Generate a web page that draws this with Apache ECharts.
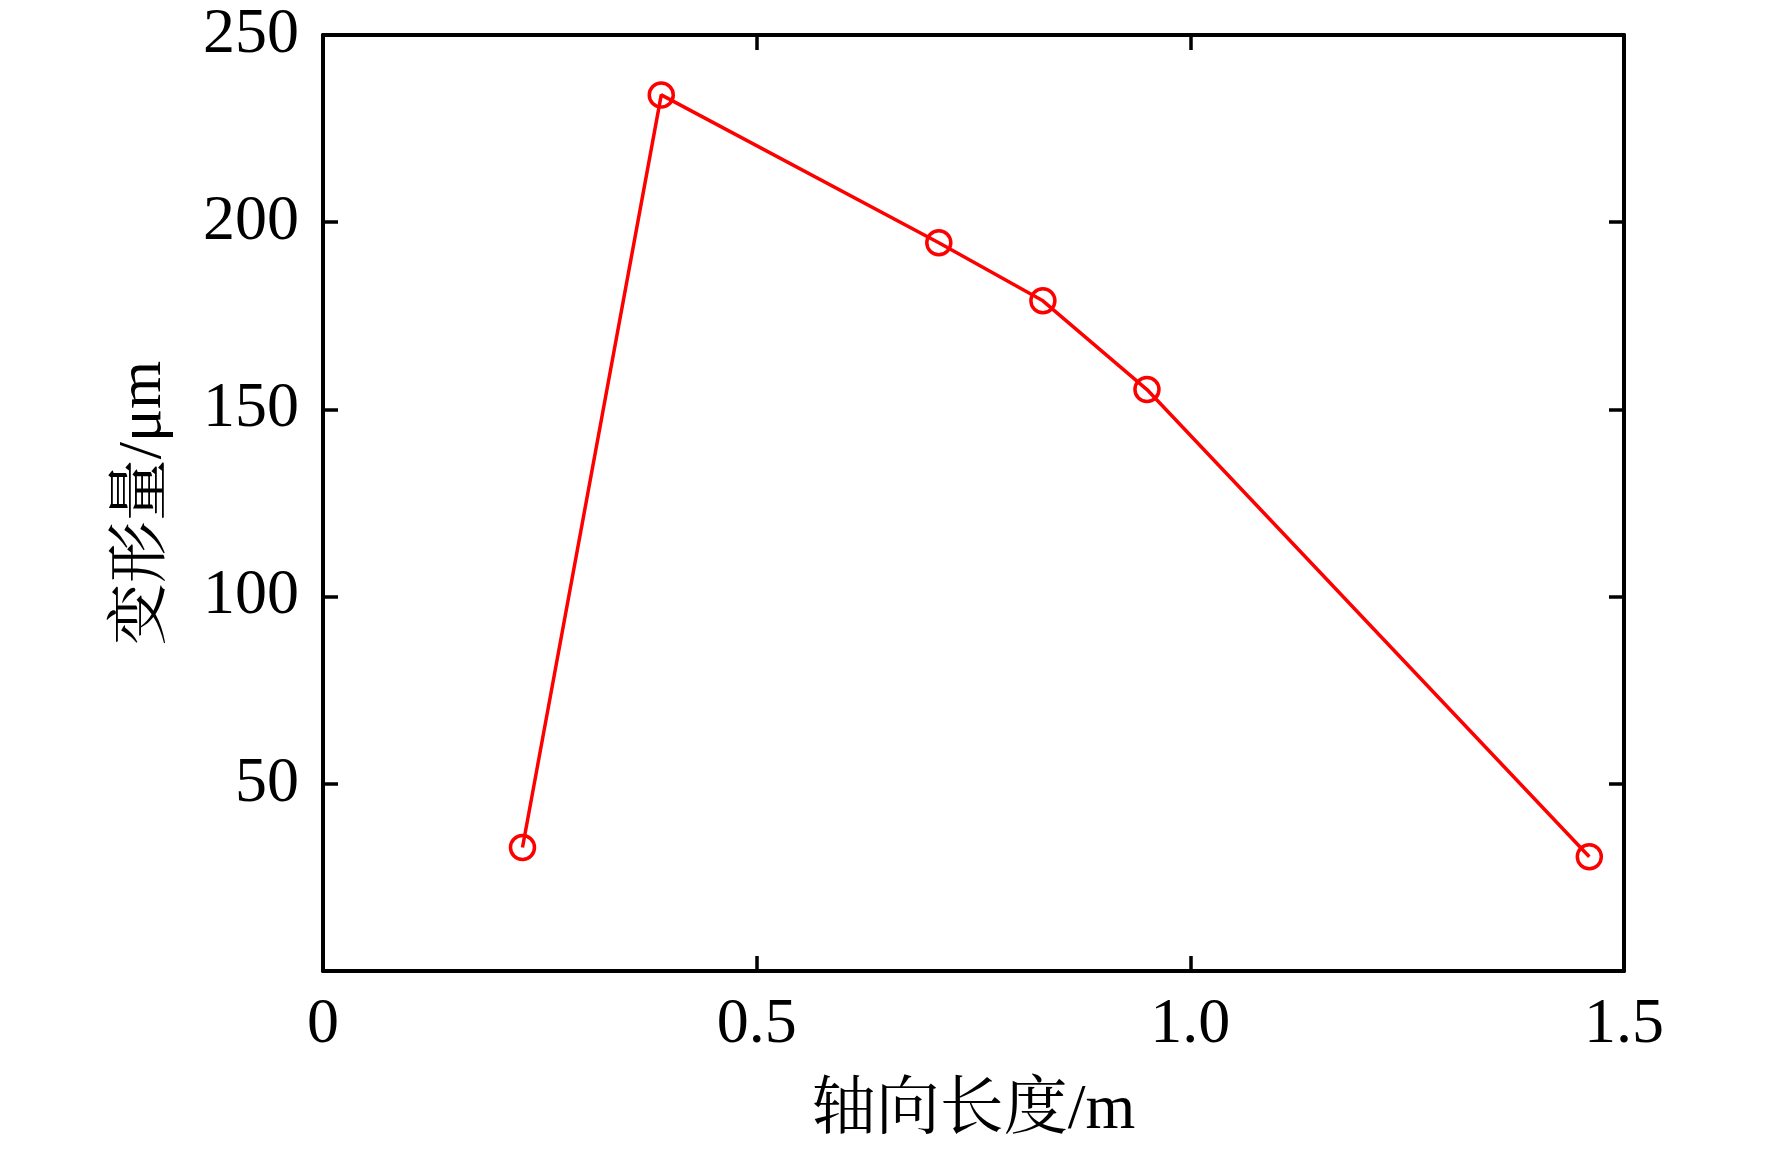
<!DOCTYPE html>
<html>
<head>
<meta charset="utf-8">
<script src="https://cdn.jsdelivr.net/npm/echarts@6/dist/echarts.min.js"></script>
<style>
html,body{margin:0;padding:0;background:#fff;}
#chart{width:1772px;height:1152px;}
</style>
</head>
<body>
<div id="chart"></div>
<script>
const xValues = [0.23, 0.39, 0.71, 0.83, 0.95, 1.46];
const yValues = [33, 234, 194.5, 179, 155.3, 30.5];
const xTicks = [0, 0.5, 1.0, 1.5];
const yTicks = [0, 50, 100, 150, 200, 250];
const xTitle = '轴向长度/m';
const yTitle = '变形量/μm';

const FONT = "'Liberation Serif', 'Times New Roman', 'Noto Serif CJK SC', 'Noto Sans CJK SC', serif";
const axisLine = {show: true, onZero: false, lineStyle: {color: '#000', width: 4}};
const axisTick = {show: true, inside: true, length: 15, lineStyle: {color: '#000', width: 3.5}};

const chart = echarts.init(document.getElementById('chart'), null, {renderer: 'canvas'});
chart.setOption({
  backgroundColor: '#fff',
  animation: false,
  grid: {left: 323, right: 148, top: 35, bottom: 181, containLabel: false},
  xAxis: [{
    type: 'value', min: xTicks[0], max: xTicks[xTicks.length - 1], interval: 0.5,
    position: 'bottom',
    axisLine: axisLine, axisTick: axisTick, splitLine: {show: false},
    axisLabel: {
      color: '#000', fontFamily: FONT, fontSize: 64, margin: 22,
      formatter: v => (v === 0 ? '0' : v.toFixed(1))
    },
    name: xTitle, nameLocation: 'middle', nameGap: 108,
    nameTextStyle: {color: '#000', fontFamily: FONT, fontSize: 64}
  }, {
    type: 'value', min: xTicks[0], max: xTicks[xTicks.length - 1], interval: 0.5,
    position: 'top',
    axisLine: axisLine, axisTick: axisTick, splitLine: {show: false},
    axisLabel: {show: false}
  }],
  yAxis: [{
    type: 'value', min: yTicks[0], max: yTicks[yTicks.length - 1], interval: 50,
    position: 'left',
    axisLine: axisLine, axisTick: axisTick, splitLine: {show: false},
    axisLabel: {
      color: '#000', fontFamily: FONT, fontSize: 64, margin: 24,
      showMinLabel: false
    },
    name: yTitle, nameLocation: 'middle', nameGap: 148, nameRotate: 90,
    nameTextStyle: {color: '#000', fontFamily: FONT, fontSize: 62}
  }, {
    type: 'value', min: yTicks[0], max: yTicks[yTicks.length - 1], interval: 50,
    position: 'right',
    axisLine: axisLine, axisTick: axisTick, splitLine: {show: false},
    axisLabel: {show: false}
  }],
  series: [{
    type: 'line',
    xAxisIndex: 0, yAxisIndex: 0,
    data: xValues.map((x, i) => [x, yValues[i]]),
    symbol: 'circle', symbolSize: 24,
    showAllSymbol: true,
    color: '#ff0000',
    lineStyle: {color: '#ff0000', width: 3.5},
    itemStyle: {color: 'rgba(255,255,255,0)', borderColor: '#ff0000', borderWidth: 3.5},
    z: 3
  }]
});
</script>
</body>
</html>
